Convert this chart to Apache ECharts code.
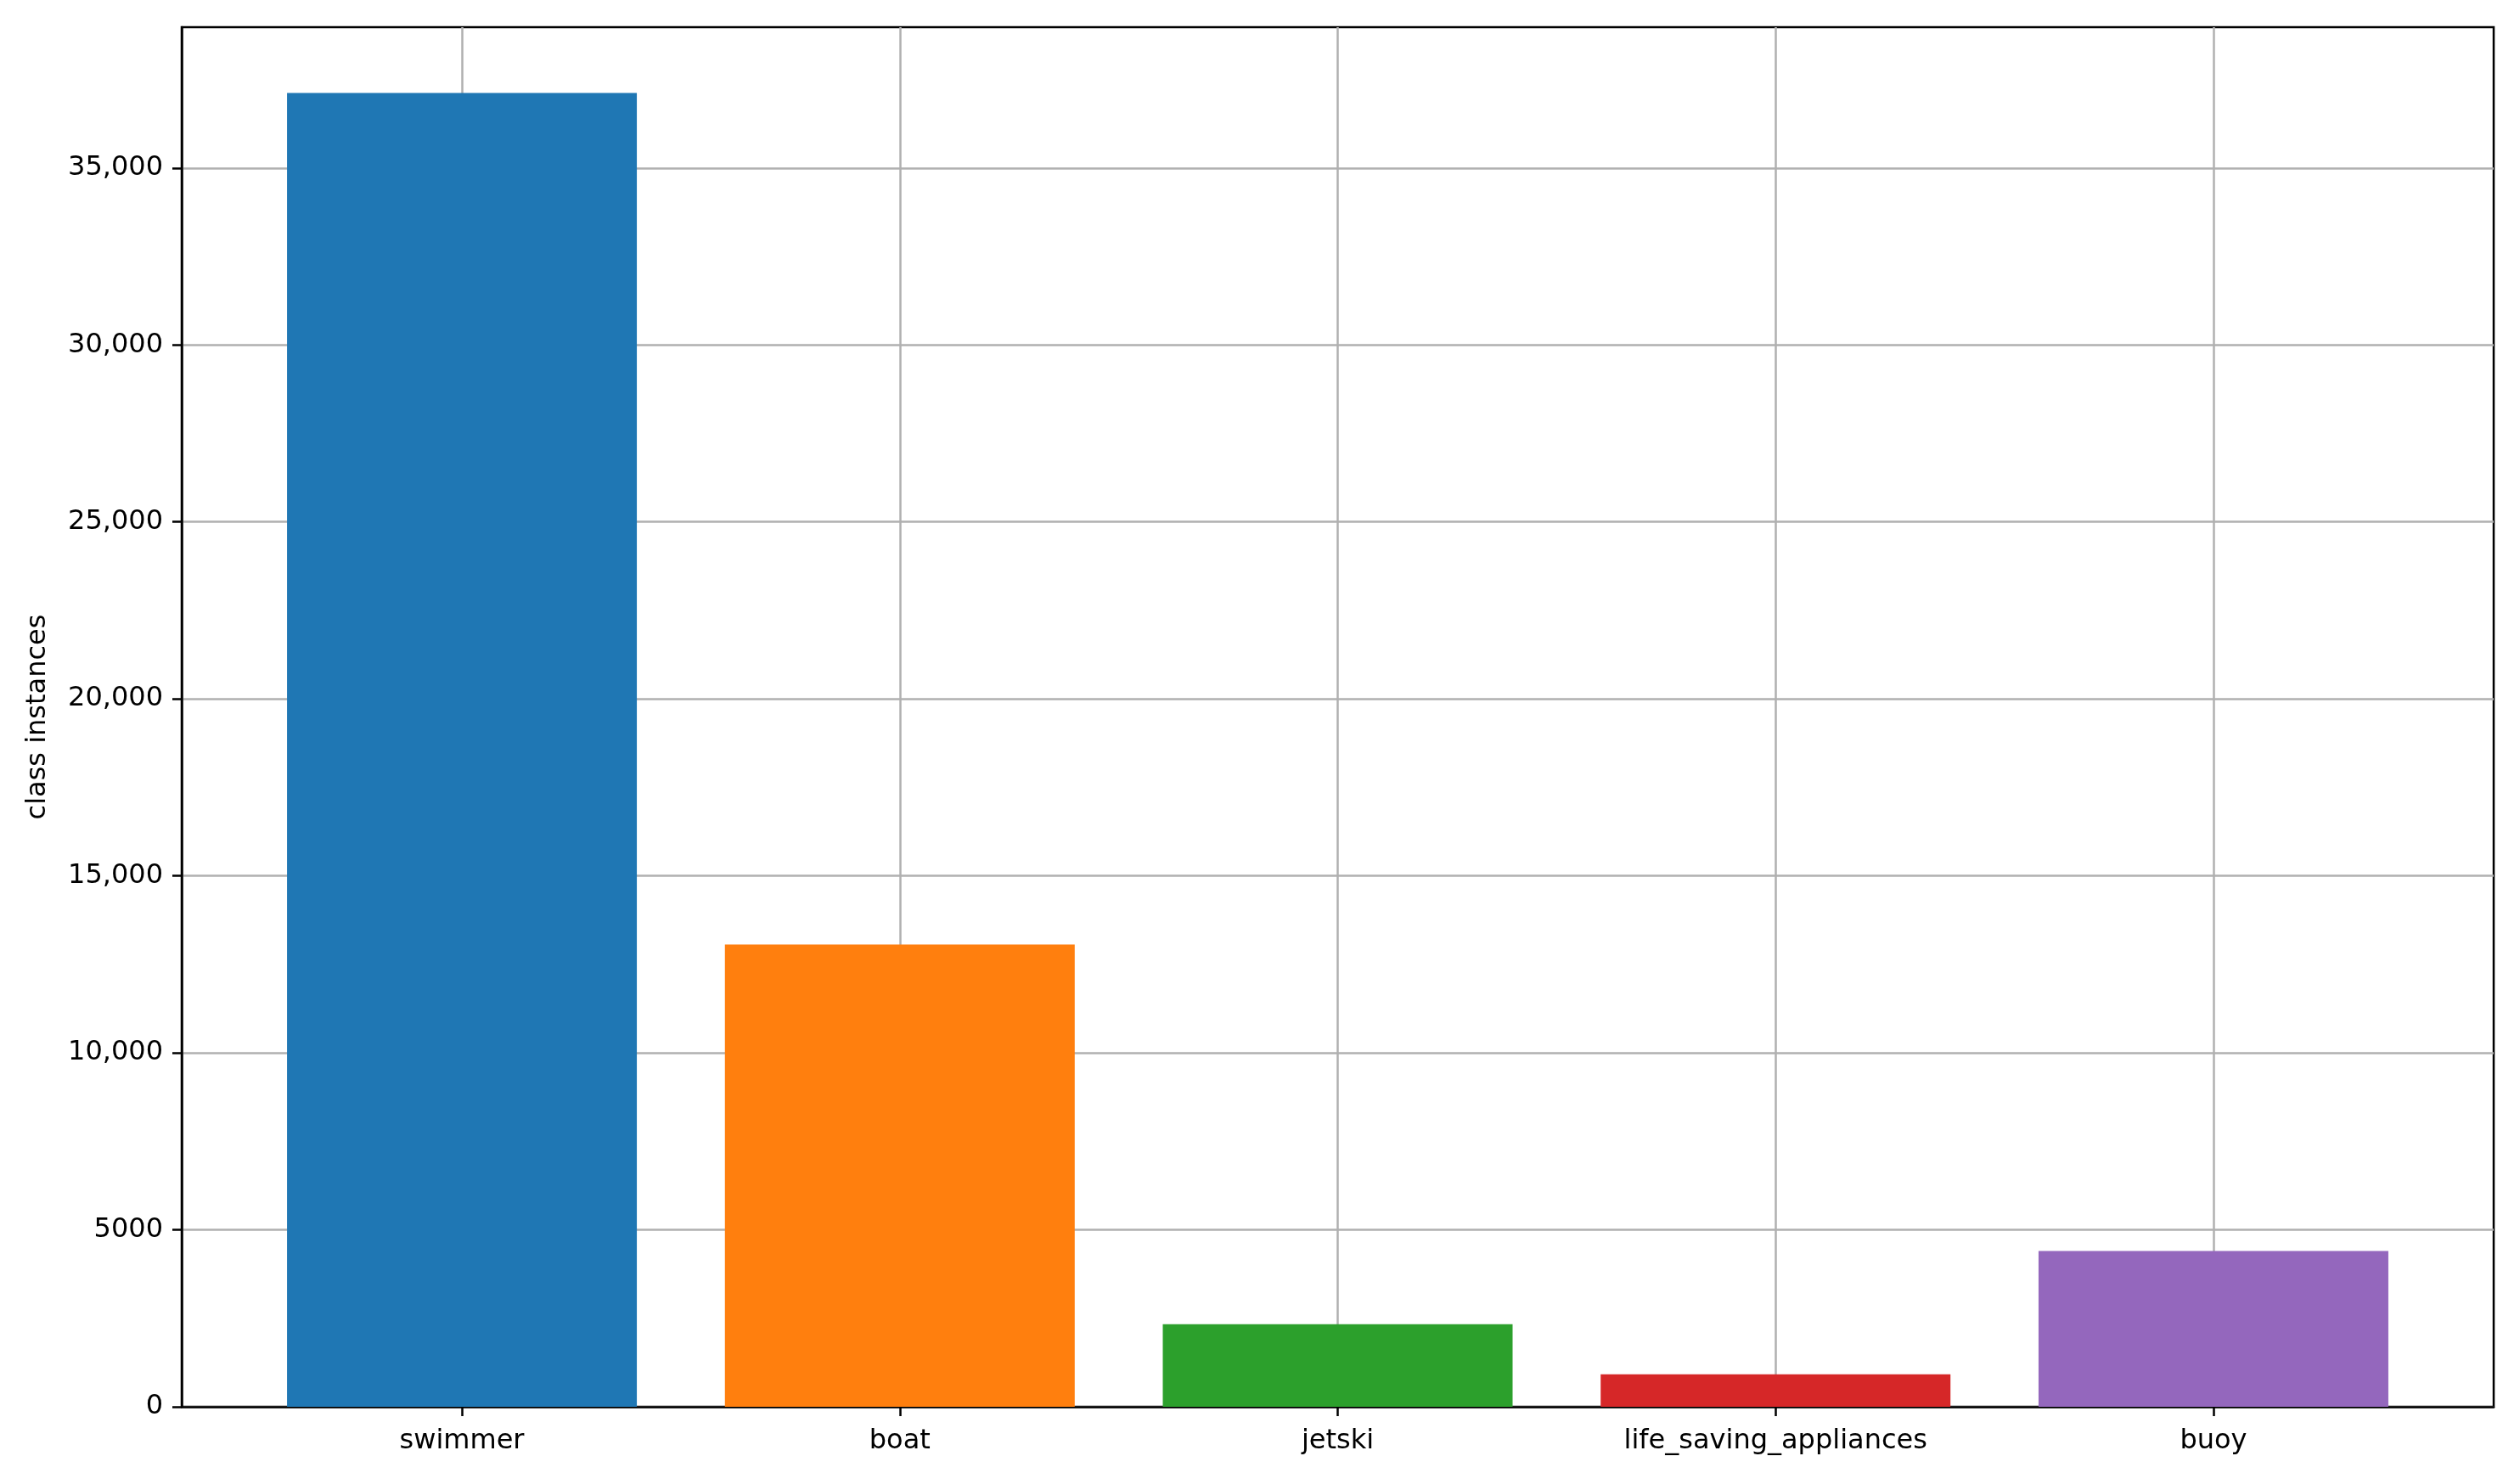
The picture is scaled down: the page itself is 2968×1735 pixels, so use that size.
<!DOCTYPE html>
<html>
<head>
<meta charset="utf-8">
<title>class instances</title>
<script src="https://cdn.jsdelivr.net/npm/echarts@6/dist/echarts.min.js"></script>
<style>
  html, body { margin: 0; padding: 0; background: #fff; }
  #chart { width: 2968px; height: 1735px; }
</style>
</head>
<body>
<div id="chart"></div>
<script>
// data
const categories = ['swimmer', 'boat', 'jetski', 'life_saving_appliances', 'buoy']
const instances = [37120, 13060, 2330, 920, 4400]
const barColors = ['#1f77b4', '#ff7f0e', '#2ca02c', '#d62728', '#9467bd']
const yTickValues = [0, 5000, 10000, 15000, 20000, 25000, 30000, 35000]
const yTickLabels = ['0', '5000', '10,000', '15,000', '20,000', '25,000', '30,000', '35,000']

const font = 'DejaVu Sans'
const xPositions = categories.map((c, i) => i)

const chart = echarts.init(document.getElementById('chart'))

const option = {
  backgroundColor: '#fff',
  animation: false,
  grid: {
    left: 214,
    top: 32,
    width: 2723,
    height: 1625,
    show: true,
    borderColor: '#000',
    borderWidth: 2.5,
    backgroundColor: 'transparent'
  },
  xAxis: {
    type: 'value',
    min: -0.64,
    max: 4.64,
    axisLine: { show: true, onZero: false, lineStyle: { color: '#000', width: 2.5 } },
    axisTick: {
      show: true,
      customValues: xPositions,
      length: 11,
      lineStyle: { color: '#000', width: 2.5 }
    },
    axisLabel: {
      customValues: xPositions,
      margin: 25,
      color: '#000',
      fontFamily: font,
      fontSize: 32,
      formatter: v => categories[Math.round(v)]
    },
    splitLine: { show: true, lineStyle: { color: '#b0b0b0', width: 2.5 } }
  },
  yAxis: {
    type: 'value',
    min: 0,
    max: 38976,
    interval: 5000,
    name: 'class instances',
    nameLocation: 'middle',
    nameRotate: 90,
    nameGap: 153,
    nameTextStyle: { color: '#000', fontFamily: font, fontSize: 32 },
    axisLine: { show: true, onZero: false, lineStyle: { color: '#000', width: 2.5 } },
    axisTick: {
      show: true,
      customValues: yTickValues,
      length: 11,
      lineStyle: { color: '#000', width: 2.5 }
    },
    axisLabel: {
      customValues: yTickValues,
      margin: 22,
      color: '#000',
      fontFamily: font,
      fontSize: 32,
      formatter: v => {
        const idx = yTickValues.indexOf(v)
        return idx >= 0 ? yTickLabels[idx] : ''
      }
    },
    splitLine: { show: true, lineStyle: { color: '#b0b0b0', width: 2.5 } }
  },
  series: [{
    type: 'bar',
    barWidth: 412,
    data: instances.map((v, i) => ({
      value: [xPositions[i], v],
      itemStyle: { color: barColors[i] }
    }))
  }]
}

chart.setOption(option)
</script>
</body>
</html>
